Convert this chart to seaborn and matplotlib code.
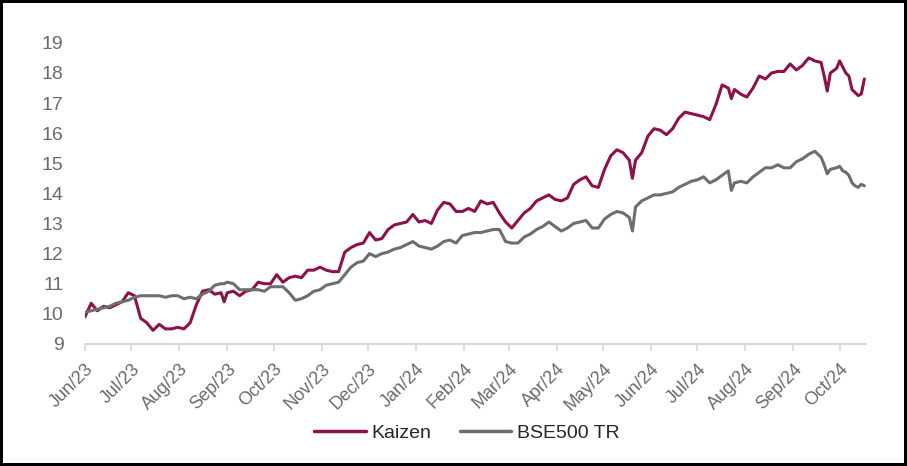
import pandas as pd
import seaborn as sns
import matplotlib.pyplot as plt
import matplotlib.dates as mdates

# days after 1 Jun 2023
days = [0, 4, 8, 12, 16, 20, 24, 28, 32, 36, 40, 44, 48, 52, 56, 60, 64, 68, 72, 76,
        80, 84, 88, 90, 92, 96, 100, 104, 108, 112, 116, 120, 124, 128, 132, 136, 140, 144, 148, 152,
        156, 160, 164, 168, 172, 176, 180, 184, 188, 192, 196, 200, 204, 208, 212, 216, 220, 224, 228, 232,
        236, 240, 244, 248, 252, 256, 260, 264, 268, 272, 276, 280, 284, 288, 292, 296, 300, 304, 308, 312,
        316, 320, 324, 328, 332, 336, 340, 344, 348, 352, 354, 356, 360, 364, 368, 372, 376, 380, 384, 388,
        392, 396, 400, 404, 408, 412, 416, 418, 420, 424, 428, 432, 436, 440, 444, 448, 452, 456, 460, 464,
        468, 472, 476, 478, 480, 482, 486, 488, 490, 492, 494, 496, 498, 500, 502, 504]

kaizen = [9.9, 10.35, 10.1, 10.25, 10.2, 10.3, 10.4, 10.7, 10.6, 9.85, 9.7, 9.45, 9.65, 9.5, 9.5, 9.55, 9.5, 9.7, 10.3, 10.75,
          10.8, 10.65, 10.7, 10.4, 10.7, 10.75, 10.6, 10.75, 10.8, 11.05, 11.0, 11.0, 11.3, 11.05, 11.2, 11.25, 11.2, 11.45, 11.45, 11.55,
          11.45, 11.4, 11.4, 12.05, 12.2, 12.3, 12.35, 12.7, 12.45, 12.5, 12.8, 12.95, 13.0, 13.05, 13.3, 13.05, 13.1, 13.0, 13.45, 13.7,
          13.65, 13.4, 13.4, 13.5, 13.4, 13.75, 13.65, 13.7, 13.35, 13.05, 12.85, 13.1, 13.35, 13.5, 13.75, 13.85, 13.95, 13.8, 13.75, 13.85,
          14.3, 14.45, 14.55, 14.25, 14.2, 14.8, 15.25, 15.45, 15.35, 15.1, 14.5, 15.1, 15.35, 15.9, 16.15, 16.1, 15.95, 16.15, 16.5, 16.7,
          16.65, 16.6, 16.55, 16.45, 16.95, 17.6, 17.5, 17.15, 17.45, 17.3, 17.2, 17.5, 17.9, 17.8, 18.0, 18.05, 18.05, 18.3, 18.1, 18.25,
          18.5, 18.4, 18.35, 17.9, 17.4, 18.0, 18.15, 18.4, 18.2, 18.0, 17.9, 17.45, 17.35, 17.25, 17.3, 17.8]

bse500 = [10.05, 10.1, 10.15, 10.2, 10.25, 10.35, 10.4, 10.45, 10.55, 10.6, 10.6, 10.6, 10.6, 10.55, 10.6, 10.6, 10.5, 10.55, 10.5, 10.65,
          10.75, 10.95, 11.0, 11.0, 11.05, 11.0, 10.8, 10.8, 10.8, 10.8, 10.75, 10.9, 10.9, 10.9, 10.7, 10.45, 10.5, 10.6, 10.75, 10.8,
          10.95, 11.0, 11.05, 11.3, 11.55, 11.7, 11.75, 12.0, 11.9, 12.0, 12.05, 12.15, 12.2, 12.3, 12.4, 12.25, 12.2, 12.15, 12.25, 12.4,
          12.45, 12.35, 12.6, 12.65, 12.7, 12.7, 12.75, 12.8, 12.8, 12.4, 12.35, 12.35, 12.55, 12.65, 12.8, 12.9, 13.05, 12.9, 12.75, 12.85,
          13.0, 13.05, 13.1, 12.85, 12.85, 13.15, 13.3, 13.4, 13.35, 13.2, 12.75, 13.55, 13.75, 13.85, 13.95, 13.95, 14.0, 14.05, 14.2, 14.3,
          14.4, 14.45, 14.55, 14.35, 14.45, 14.6, 14.75, 14.1, 14.35, 14.4, 14.35, 14.55, 14.7, 14.85, 14.85, 14.95, 14.85, 14.85, 15.05, 15.15,
          15.3, 15.4, 15.2, 14.95, 14.65, 14.8, 14.85, 14.9, 14.75, 14.7, 14.6, 14.35, 14.25, 14.2, 14.3, 14.25]

start = pd.Timestamp("2023-06-01")
dates = start + pd.to_timedelta(days, unit="D")

df = pd.DataFrame({"date": dates, "Kaizen": kaizen, "BSE500 TR": bse500})
df = df.melt(id_vars="date", var_name="series", value_name="value")

sns.set_style("white")
plt.rcParams["font.family"] = ["Liberation Sans", "DejaVu Sans"]

fig = plt.figure(figsize=(9.07, 4.66), dpi=100, linewidth=4, edgecolor="black")
ax = fig.add_axes([0.0937, 0.262, 0.861, 0.646])

sns.lineplot(data=df, x="date", y="value", hue="series",
             palette={"Kaizen": "#8c1249", "BSE500 TR": "#6e6e6e"},
             linewidth=2.2, ax=ax)

ax.set_xlim(start, pd.Timestamp("2024-10-18"))
ax.set_ylim(9, 19)
ax.set_yticks(range(9, 20))
ax.set_xlabel("")
ax.set_ylabel("")

ax.xaxis.set_major_locator(mdates.MonthLocator())
ax.xaxis.set_major_formatter(mdates.DateFormatter("%b/%y"))
plt.setp(ax.get_xticklabels(), rotation=45, ha="right", rotation_mode="anchor")

ax.tick_params(axis="x", bottom=True, length=5, width=1.2, color="#d9d9d9",
               labelsize=13, labelcolor="#6b6b6b", pad=7)
ax.tick_params(axis="y", left=False, labelsize=14, labelcolor="#6b6b6b", pad=12)

sns.despine(ax=ax, left=True)
ax.spines["bottom"].set_color("#d9d9d9")
ax.spines["bottom"].set_linewidth(1.5)

sns.move_legend(ax, "center", bbox_to_anchor=(0.489, -0.296), ncol=2, frameon=False,
                title=None, fontsize=14, handlelength=2.65, handletextpad=0.3,
                columnspacing=1.45)
for line in ax.get_legend().get_lines():
    line.set_linewidth(2.5)

fig.savefig("out.png", dpi=100)
